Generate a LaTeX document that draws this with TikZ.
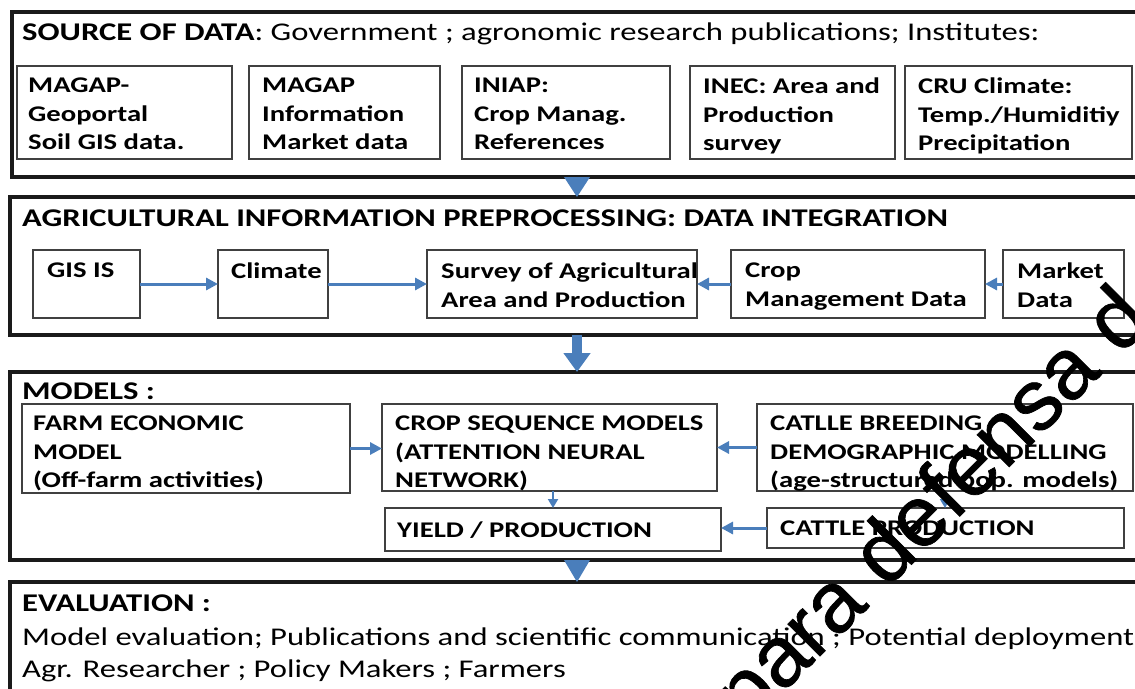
\documentclass[tikz,border=0pt]{standalone}
\usepackage{fontspec}
\setmainfont{Carlito}[FakeStretch=1.28]
\newfontfamily\wmfont{Liberation Sans}[FakeBold=0.8]
\usetikzlibrary{arrows.meta,calc}
\definecolor{arrblue}{HTML}{4A7EBB}
\definecolor{boxgray}{HTML}{404040}
\definecolor{framegray}{HTML}{1A1A1A}
\begin{document}
\begin{tikzpicture}[x=1pt,y=-1pt,
  frame/.style={draw=framegray, line width=3.5pt, anchor=north west, inner sep=0pt, outer sep=0pt},
  box/.style={draw=boxgray, line width=1.1pt, anchor=north west, inner sep=0pt, outer sep=0pt},
  txt/.style={anchor=north west, inner sep=0pt, align=left, font=\bfseries\fontsize{22.4}{28.5}\selectfont},
  htxt/.style={anchor=north west, inner sep=0pt, align=left, font=\bfseries\fontsize{25.5}{30}\selectfont},
  hdr/.style={anchor=north west, inner sep=0pt, align=left, font=\fontsize{25.5}{30}\selectfont},
  evtxt/.style={anchor=north west, inner sep=0pt, align=left, font=\fontsize{25.5}{31.5}\selectfont},
  conn/.style={draw=arrblue, line width=3pt, -{Triangle[length=12pt,width=12pt]}},
  sconn/.style={draw=arrblue, line width=2pt, -{Triangle[length=9pt,width=10pt]}},
  bigconn/.style={draw=arrblue, line width=10pt, -{Triangle[length=19pt,width=26pt]}},
  wmark/.style={inner sep=0pt, anchor=base west, rotate=45, font=\wmfont\fontsize{86}{86}\selectfont, text=black}
]
\useasboundingbox (0,0) rectangle (1135,688);
\fill[white] (0,0) rectangle (1135,688);
\clip (0,0) rectangle (1135,688);
\coordinate (xa) at (577,0);

% ---------- Frame 1 ----------
\node[frame, minimum width=1200pt, minimum height=165pt] (f1) at (12,12) {};
\node[hdr] (h1) at (22,23) {\textbf{SOURCE OF DATA}: Government ; agronomic research publications; Institutes:};
\node[box, minimum width=215pt, minimum height=93pt] (b1) at (17,66) {};
\node[box, minimum width=191pt, minimum height=93pt] (b2) at (249,66) {};
\node[box, minimum width=208pt, minimum height=93pt] (b3) at (462,66) {};
\node[box, minimum width=205pt, minimum height=93pt] (b4) at (690,66) {};
\node[box, minimum width=227pt, minimum height=93pt] (b5) at (905,66) {};
\node[txt] (b1t) at ($(b1.north west)+(11,12)$) {MAGAP-\\Geoportal\\Soil GIS data.};
\node[txt] (b2t) at ($(b2.north west)+(13,12)$) {MAGAP\\Information\\Market data};
\node[txt] (b3t) at ($(b3.north west)+(12,12)$) {INIAP:\\Crop Manag.\\References};
\node[txt] (b4t) at ($(b4.north west)+(13,12)$) {INEC: Area and\\Production\\survey};
\node[txt] (b5t) at ($(b5.north west)+(13,12)$) {CRU Climate:\\Temp./Humiditiy\\Precipitation};

% ---------- Frame 2 ----------
\node[frame, minimum width=1200pt, minimum height=138pt] (f2) at (10,197) {};
\node[htxt] (h2) at (22,210) {AGRICULTURAL INFORMATION PREPROCESSING: DATA INTEGRATION};
\node[box, minimum width=107pt, minimum height=68pt] (gis) at (33,250) {};
\node[box, minimum width=110pt, minimum height=68pt] (clim) at (218,250) {};
\node[box, minimum width=270pt, minimum height=68pt] (surv) at (427,250) {};
\node[box, minimum width=254pt, minimum height=68pt] (crop) at (731,250) {};
\node[box, minimum width=121pt, minimum height=68pt] (mkt) at (1003,250) {};
\node[txt] (gist) at ($(gis.north west)+(14,13)$) {GIS IS};
\node[txt] (climt) at ($(clim.north west)+(13,13)$) {Climate};
\node[txt] (survt) at ($(surv.north west)+(14,13)$) {Survey of Agricultural\\Area and Production};
\node[txt] (cropt) at ($(crop.north west)+(14,13)$) {Crop\\Management Data};
\node[txt] (mktt) at ($(mkt.north west)+(14,13)$) {Market\\Data};
\draw[conn] (gis) -- (clim);
\draw[conn] (clim) -- (surv);
\draw[conn] (crop) -- (surv);
\draw[conn] (mkt) -- (crop);

% ---------- Frame 3 ----------
\node[frame, minimum width=1200pt, minimum height=188pt] (f3) at (10,372) {};
\node[htxt] (h3) at (22,383) {MODELS :};
\node[box, minimum width=328pt, minimum height=89pt] (farm) at (22,404) {};
\node[box, minimum width=335pt, minimum height=87pt] (cseq) at (382,404) {};
\node[box, minimum width=376pt, minimum height=87pt] (catl) at (757,404) {};
\node[box, minimum width=336pt, minimum height=43pt] (yield) at (385,508) {};
\node[box, minimum width=357pt, minimum height=40pt] (cprod) at (767,508) {};
\node[txt] (farmt) at ($(farm.north west)+(11,12)$) {FARM ECONOMIC\\MODEL\\(Off-farm activities)};
\node[txt] (cseqt) at ($(cseq.north west)+(13,12)$) {CROP SEQUENCE MODELS\\(ATTENTION NEURAL\\NETWORK)};
\node[txt] (catlt) at ($(catl.north west)+(13,12)$) {CATLLE BREEDING\\DEMOGRAPHIC MODELLING\\(age-structured pop. models)};
\node[txt] (yieldt) at ($(yield.north west)+(12,14)$) {YIELD / PRODUCTION};
\node[txt] (cprodt) at ($(cprod.north west)+(13,13)$) {CATTLE PRODUCTION};
\draw[conn] (farm.east) -- (farm.east -| cseq.west);
\draw[conn] (catl.west) -- (catl.west -| cseq.east);
\draw[sconn] (yield.north |- cseq.south) -- (yield.north);
\draw[sconn] (catl.south) -- (catl.south |- cprod.north);
\draw[conn] (cprod.west) -- (cprod.west -| yield.east);

% ---------- Frame 4 ----------
\node[frame, minimum width=1200pt, minimum height=160pt] (f4) at (10,582) {};
\node[htxt] (h4) at (22,595) {EVALUATION :};
\node[evtxt] (ev) at (22,628) {Model evaluation; Publications and scientific communication ; Potential deployment\\Agr. Researcher ; Policy Makers ; Farmers};

% ---------- arrows between frames ----------
\fill[arrblue] ($(f1.south -| xa)+(-13,0)$) -- ($(f1.south -| xa)+(13,0)$) -- (f2.north -| xa) -- cycle;
\draw[bigconn] (f2.south -| xa) -- (f3.north -| xa);
\fill[arrblue] ($(f3.south -| xa)+(-13,0)$) -- ($(f3.south -| xa)+(13,0)$) -- (f4.north -| xa) -- cycle;

% ---------- watermark ----------
\node[wmark] (wm) at (748,728) {para defensa d};
\end{tikzpicture}
\end{document}
